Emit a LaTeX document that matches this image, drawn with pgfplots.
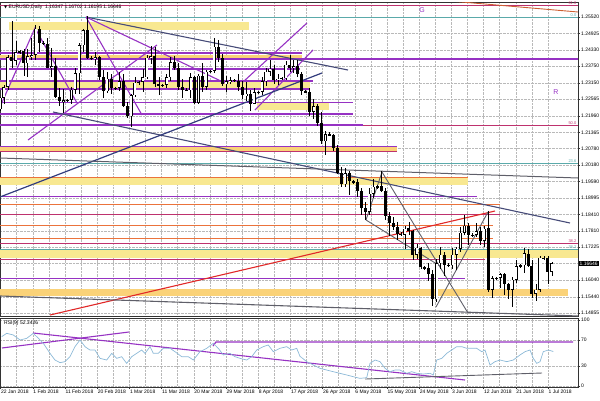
\documentclass[border=0pt]{standalone}
\usepackage{pgfplots}
\usepackage{pgfplotstable}
\pgfplotsset{compat=1.18}
\usepackage{fontspec}
\setmainfont{Liberation Sans}
\newfontfamily\dejavu{DejaVu Sans}
\definecolor{pur}{RGB}{150,50,195}
\definecolor{mar}{RGB}{190,50,110}
\definecolor{ora}{RGB}{235,115,60}
\definecolor{yel}{RGB}{248,232,145}
\definecolor{yor}{RGB}{250,210,120}
\definecolor{tea}{RGB}{90,170,170}
\definecolor{slate}{RGB}{70,75,120}
\definecolor{navy}{RGB}{50,60,125}
\definecolor{gry}{RGB}{95,95,105}
\definecolor{redl}{RGB}{225,40,40}
\definecolor{brn}{RGB}{205,95,50}
\definecolor{rsic}{RGB}{140,185,215}
\definecolor{gridc}{RGB}{185,185,185}

\pgfplotstableread{
i o h l c
0 1.2220 1.2265 1.2212 1.2262
1 1.2262 1.2306 1.2240 1.2300
2 1.2300 1.2415 1.2290 1.2408
3 1.2408 1.2537 1.2367 1.2395
4 1.2395 1.2466 1.2380 1.2425
5 1.2425 1.2432 1.2418 1.2428
6 1.2428 1.2435 1.2338 1.2385
7 1.2385 1.2436 1.2335 1.2410
8 1.2410 1.2478 1.2398 1.2415
9 1.2415 1.2523 1.2396 1.2510
10 1.2510 1.2518 1.2425 1.2460
11 1.2460 1.2466 1.2450 1.2455
12 1.2455 1.2476 1.2368 1.2370
13 1.2370 1.2440 1.2335 1.2375
14 1.2375 1.2404 1.2261 1.2265
15 1.2265 1.2297 1.2233 1.2250
16 1.2247 1.2291 1.2206 1.2252
17 1.2252 1.2258 1.2245 1.2254
18 1.2254 1.2300 1.2240 1.2290
19 1.2290 1.2370 1.2275 1.2350
20 1.2350 1.2460 1.2273 1.2450
21 1.2450 1.2510 1.2425 1.2505
22 1.2505 1.2556 1.2400 1.2405
23 1.2405 1.2412 1.2398 1.2403
24 1.2403 1.2425 1.2380 1.2408
25 1.2408 1.2410 1.2325 1.2337
26 1.2337 1.2360 1.2260 1.2285
27 1.2285 1.2353 1.2277 1.2330
28 1.2330 1.2346 1.2276 1.2295
29 1.2295 1.2300 1.2288 1.2297
30 1.2297 1.2355 1.2284 1.2320
31 1.2320 1.2345 1.2226 1.2230
32 1.2230 1.2244 1.2188 1.2195
33 1.2195 1.2274 1.2155 1.2270
34 1.2270 1.2335 1.2265 1.2315
35 1.2315 1.2322 1.2308 1.2318
36 1.2318 1.2365 1.2280 1.2335
37 1.2335 1.2415 1.2330 1.2405
38 1.2405 1.2446 1.2383 1.2410
39 1.2410 1.2445 1.2300 1.2310
40 1.2310 1.2336 1.2272 1.2305
41 1.2305 1.2312 1.2300 1.2308
42 1.2308 1.2345 1.2295 1.2335
43 1.2335 1.2409 1.2320 1.2390
44 1.2390 1.2413 1.2360 1.2370
45 1.2370 1.2385 1.2290 1.2300
46 1.2300 1.2330 1.2260 1.2290
47 1.2290 1.2296 1.2284 1.2288
48 1.2288 1.2350 1.2260 1.2335
49 1.2335 1.2340 1.2240 1.2242
50 1.2242 1.2345 1.2240 1.2340
51 1.2340 1.2388 1.2280 1.2300
52 1.2300 1.2360 1.2290 1.2355
53 1.2355 1.2362 1.2350 1.2358
54 1.2358 1.2476 1.2350 1.2445
55 1.2445 1.2470 1.2390 1.2405
56 1.2405 1.2420 1.2305 1.2310
57 1.2310 1.2338 1.2280 1.2320
58 1.2320 1.2335 1.2310 1.2325
59 1.2325 1.2330 1.2318 1.2322
60 1.2322 1.2345 1.2285 1.2300
61 1.2300 1.2320 1.2255 1.2270
62 1.2270 1.2318 1.2250 1.2275
63 1.2275 1.2290 1.2215 1.2240
64 1.2240 1.2295 1.2240 1.2280
65 1.2280 1.2286 1.2274 1.2282
66 1.2282 1.2336 1.2270 1.2320
67 1.2320 1.2368 1.2305 1.2355
68 1.2355 1.2396 1.2340 1.2365
69 1.2365 1.2380 1.2310 1.2325
70 1.2325 1.2345 1.2307 1.2330
71 1.2330 1.2336 1.2324 1.2332
72 1.2332 1.2395 1.2325 1.2380
73 1.2380 1.2414 1.2355 1.2370
74 1.2370 1.2396 1.2352 1.2375
75 1.2375 1.2397 1.2336 1.2345
76 1.2345 1.2355 1.2270 1.2285
77 1.2285 1.2290 1.2278 1.2282
78 1.2282 1.2296 1.2195 1.2210
79 1.2210 1.2255 1.2185 1.2230
80 1.2230 1.2240 1.2160 1.2170
81 1.2170 1.2210 1.2093 1.2105
82 1.2105 1.2140 1.2055 1.2130
83 1.2130 1.2136 1.2122 1.2127
84 1.2127 1.2130 1.2070 1.2080
85 1.2080 1.2090 1.1985 1.1990
86 1.1990 1.2012 1.1938 1.1950
87 1.1950 1.2008 1.1940 1.1990
88 1.1990 1.1996 1.1910 1.1960
89 1.1960 1.1966 1.1952 1.1958
90 1.1958 1.1968 1.1905 1.1925
91 1.1925 1.1935 1.1838 1.1865
92 1.1865 1.1885 1.1822 1.1850
93 1.1850 1.1935 1.1840 1.1915
94 1.1915 1.1970 1.1900 1.1940
95 1.1940 1.1946 1.1934 1.1942
96 1.1942 1.1997 1.1920 1.1925
97 1.1925 1.1935 1.1820 1.1835
98 1.1835 1.1850 1.1763 1.1810
99 1.1810 1.1830 1.1785 1.1795
100 1.1795 1.1815 1.1750 1.1770
101 1.1770 1.1776 1.1762 1.1768
102 1.1768 1.1800 1.1717 1.1790
103 1.1790 1.1815 1.1765 1.1780
104 1.1780 1.1785 1.1676 1.1695
105 1.1695 1.1735 1.1680 1.1720
106 1.1720 1.1725 1.1645 1.1650
107 1.1650 1.1656 1.1642 1.1648
108 1.1648 1.1667 1.1600 1.1625
109 1.1625 1.1640 1.1510 1.1535
110 1.1535 1.1680 1.1525 1.1665
111 1.1665 1.1725 1.1645 1.1695
112 1.1695 1.1705 1.1620 1.1660
113 1.1660 1.1666 1.1652 1.1658
114 1.1658 1.1718 1.1645 1.1695
115 1.1695 1.1722 1.1640 1.1718
116 1.1718 1.1795 1.1705 1.1775
117 1.1775 1.1840 1.1765 1.1800
118 1.1800 1.1810 1.1730 1.1765
119 1.1765 1.1772 1.1760 1.1768
120 1.1768 1.1808 1.1760 1.1780
121 1.1780 1.1795 1.1730 1.1745
122 1.1745 1.1800 1.1725 1.1790
123 1.1790 1.1852 1.1560 1.1570
124 1.1570 1.1620 1.1540 1.1610
125 1.1610 1.1616 1.1604 1.1612
126 1.1612 1.1630 1.1575 1.1625
127 1.1625 1.1628 1.1550 1.1590
128 1.1590 1.1595 1.1535 1.1570
129 1.1570 1.1615 1.1508 1.1605
130 1.1605 1.1675 1.1595 1.1655
131 1.1655 1.1662 1.1648 1.1658
132 1.1658 1.1720 1.1630 1.1700
133 1.1700 1.1715 1.1650 1.1655
134 1.1655 1.1675 1.1540 1.1555
135 1.1555 1.1590 1.1527 1.1570
136 1.1570 1.1690 1.1560 1.1685
137 1.1685 1.1690 1.1678 1.1682
138 1.1682 1.1690 1.1590 1.1635
139 1.1635 1.1670 1.1620 1.1665
}\candles

\pgfplotstableread{
x v
1.7 74.7
6.7 79.8
13.3 77.3
20 69.7
26.7 72.2
33.3 79.8
36.7 74.7
43.3 64.7
50 49.5
55 39.4
60 35.4
65 36.9
70 44.4
75 59.6
80 69.7
85 59.6
90 54.5
95 54.5
100 41.9
106.7 39.4
111.7 49.5
116.7 41.9
121.7 44.4
126.7 34.3
131.7 44.4
136.7 49.5
141.7 54.5
145 49.5
150 59.6
153.3 49.5
158.3 49.5
163.3 57.1
170 57.1
175 52
181.7 44.4
188.3 44.4
193.3 39.4
200 52
206.7 57.1
213.3 64.7
218.3 57.1
223.3 47
230 49.5
235 44.4
240 41.9
246.7 39.4
251.7 44.4
256.7 54.5
263.3 59.6
268.3 62.1
273.3 52
280 57.1
286.7 59.6
291.7 54.5
296.7 57.1
300 45.0
306.7 36.9
313.3 31.8
320 26.8
326.7 24.2
333.3 21.7
340 19.2
346.7 16.7
353.3 14.1
360 11.6
366.7 12.6
370 34.3
375 39.4
380 36.9
385 26.8
390 21.7
395 24.2
400 24.2
406.7 19.2
411.7 21.7
416.7 19.2
423.3 18.2
430 19.2
433.3 16.7
436.7 39.4
441.7 41.9
446.7 49.5
451.7 54.5
456.7 59.6
461.7 59.6
466.7 57.1
471.7 57.1
476.7 57.1
481.7 52
485 54.5
490 31.8
495 36.9
500 39.4
506.7 36.9
513.3 39.4
520 47
525 52
530 54.5
533.3 41.9
536.7 34.3
540 36.9
543.3 52
548.3 54.5
553.3 52.3
}\rsitab

\pgfplotsset{
  mt/.style={
    scale only axis, width=578pt, xmin=0, xmax=578,
    xtick={0.5,32.7,64.9,97.1,129.3,161.5,193.7,225.9,258.1,290.3,322.5,354.7,386.9,419.1,451.3,483.5,515.7,547.9},
    minor x tick num=1,
    grid=both,
    major grid style={gridc, densely dotted, line width=0.35pt},
    minor grid style={gridc, densely dotted, line width=0.35pt},
    axis line style={black!80, line width=0.6pt},
    tick align=outside, major tick length=2pt, minor tick length=0pt,
    tick style={black!80, line width=0.4pt},
    ytick pos=right, yticklabel pos=right,
    clip mode=individual,
    yticklabel style={font=\fontsize{5}{6}\selectfont, inner sep=1pt},
    xticklabel style={font=\fontsize{5}{6}\selectfont, anchor=north west, inner sep=1pt, xshift=-0.5pt},
  }
}

\begin{document}
\begin{tikzpicture}[x=1pt,y=1pt]
\path[use as bounding box] (0pt,0pt) rectangle (600pt,-400pt);

\begin{axis}[mt, name=main, at={(0pt,-2pt)}, anchor=north west, height=314pt,
  ymin=1.14747, ymax=1.26060,
  xticklabels={}, xtick pos=bottom, xtick style={draw=none},
  ytick={1.25520,1.24925,1.24330,1.23750,1.23150,1.22565,1.21960,1.21365,1.20780,1.20180,1.19590,1.18995,1.18410,1.17810,1.17225,1.16640,1.16040,1.15440,1.14855},
  yticklabels={1.25520,1.24925,1.24330,1.23750,1.23150,1.22565,1.21960,1.21365,1.20780,1.20180,1.19590,1.18995,1.18410,1.17810,1.17225,1.16640,1.16040,1.15440,1.14855},
]
% bands
\addplot[forget plot, fill=yel, draw=none] coordinates {(9,1.25340) (249,1.25340) (249,1.25052) (9,1.25052)};
\addplot[forget plot, fill=yor, draw=none] coordinates {(0,1.24151) (302,1.24151) (302,1.24007) (0,1.24007)};
\addplot[forget plot, fill=yel, draw=none] coordinates {(0,1.23178) (310,1.23178) (310,1.22962) (0,1.22962)};
\addplot[forget plot, fill=yel, draw=none] coordinates {(257,1.22421) (329,1.22421) (329,1.22169) (257,1.22169)};
\addplot[forget plot, fill=yor, draw=none] coordinates {(0,1.20872) (397,1.20872) (397,1.20692) (0,1.20692)};
\addplot[forget plot, fill=yel, draw=none] coordinates {(0,1.19755) (468,1.19755) (468,1.19467) (0,1.19467)};
\addplot[forget plot, fill=yel, draw=none] coordinates {(0,1.17125) (578,1.17125) (578,1.16837) (0,1.16837)};
\addplot[forget plot, fill=yor, draw=none] coordinates {(0,1.15720) (568,1.15720) (568,1.15468) (0,1.15468)};
% fib / thin full-width levels
\addplot[forget plot, mar, line width=0.6pt] coordinates {(0,1.25952) (578,1.25952)};
\addplot[forget plot, tea, line width=0.6pt] coordinates {(0,1.25520) (578,1.25520)};
\addplot[forget plot, mar, line width=0.6pt] coordinates {(0,1.21629) (578,1.21629)};
\addplot[forget plot, tea, line width=0.6pt] coordinates {(0,1.20260) (578,1.20260)};
\addplot[forget plot, mar, line width=0.6pt] coordinates {(0,1.17377) (578,1.17377)};
\addplot[forget plot, tea, line width=0.6pt] coordinates {(0,1.17161) (578,1.17161)};
% purple levels
\addplot[forget plot, pur, line width=1.2pt] coordinates {(0,1.24223) (302,1.24223)};
\addplot[forget plot, pur, line width=1.3pt] coordinates {(0,1.24007) (578,1.24007)};
\addplot[forget plot, pur, line width=1.2pt] coordinates {(0,1.23646) (300,1.23646)};
\addplot[forget plot, pur, line width=1.2pt] coordinates {(0,1.23214) (313,1.23214)};
\addplot[forget plot, pur, line width=1.2pt] coordinates {(0,1.22926) (310,1.22926)};
\addplot[forget plot, pur, line width=1.2pt] coordinates {(0,1.22439) (353,1.22439)};
\addplot[forget plot, pur, line width=1.2pt] coordinates {(0,1.22025) (353,1.22025)};
\addplot[forget plot, pur, line width=1.2pt] coordinates {(0,1.21629) (363,1.21629)};
\addplot[forget plot, pur, line width=1.0pt] coordinates {(0,1.20872) (397,1.20872)};
\addplot[forget plot, pur, line width=1.0pt] coordinates {(0,1.19035) (477,1.19035)};
\addplot[forget plot, pur, line width=1.0pt] coordinates {(0,1.16116) (465,1.16116)};
% orange and maroon levels
\addplot[forget plot, ora, line width=0.9pt] coordinates {(0,1.19755) (468,1.19755)};
\addplot[forget plot, ora, line width=0.9pt] coordinates {(0,1.18783) (500,1.18783)};
\addplot[forget plot, ora, line width=0.9pt] coordinates {(0,1.18026) (493,1.18026)};
\addplot[forget plot, ora, line width=0.9pt] coordinates {(0,1.17557) (493,1.17557)};
\addplot[forget plot, mar, line width=0.9pt] coordinates {(0,1.20692) (397,1.20692)};
\addplot[forget plot, mar, line width=0.9pt] coordinates {(0,1.18422) (500,1.18422)};
\addplot[forget plot, mar, line width=0.9pt] coordinates {(0,1.16801) (485,1.16801)};
% trend lines
\addplot[forget plot, brn, line width=0.9pt] coordinates {(450,1.26096) (578,1.25700)};
\addplot[forget plot, slate, line width=1.1pt] coordinates {(86,1.25520) (348,1.23610)};
\addplot[forget plot, pur, line width=1.1pt] coordinates {(86,1.25520) (225,1.23142)};
\addplot[forget plot, pur, line width=1.1pt] coordinates {(86,1.25520) (142,1.21989)};
\addplot[forget plot, pur, line width=1.1pt] coordinates {(0,1.22277) (35,1.25124) (77,1.22421)};
\addplot[forget plot, pur, line width=1.1pt] coordinates {(28,1.21088) (157,1.24511)};
\addplot[forget plot, pur, line width=1.1pt] coordinates {(243,1.23178) (307,1.25304)};
\addplot[forget plot, pur, line width=1.1pt] coordinates {(255,1.22169) (313,1.24331)};
\addplot[forget plot, slate, line width=1.1pt] coordinates {(53,1.22097) (570,1.18098)};
\addplot[forget plot, navy, line width=1.2pt] coordinates {(0,1.19035) (322,1.23502)};
\addplot[forget plot, gry, line width=1.0pt] coordinates {(0,1.20440) (578,1.19719)};
\addplot[forget plot, redl, line width=1.1pt] coordinates {(50,1.14783) (495,1.18530)};
\addplot[forget plot, gry, line width=1.1pt] coordinates {(0,1.15468) (578,1.14747)};
\addplot[forget plot, gry, line width=0.9pt] coordinates {(366,1.18206) (382,1.19935) (468,1.14855)};
\addplot[forget plot, gry, line width=0.9pt] coordinates {(366,1.18206) (440,1.16549)};
\addplot[forget plot, gry, line width=0.9pt] coordinates {(488,1.18494) (436,1.15071)};
% candles: wicks
\addplot[forget plot, draw=none, mark=none,
  error bars/.cd, y dir=both, y explicit, error mark=none,
  error bar style={draw=black, line width=0.6pt}]
  table[x expr={3.97*\thisrow{i}}, y=o,
        y error plus expr={\thisrow{h}-\thisrow{o}},
        y error minus expr={\thisrow{o}-\thisrow{l}}] {\candles};
% candles: bodies (black)
\addplot[forget plot, draw=none, mark=none,
  error bars/.cd, y dir=both, y explicit, error mark=none,
  error bar style={draw=black, line width=3pt}]
  table[x expr={3.97*\thisrow{i}}, y expr={(\thisrow{o}+\thisrow{c})/2},
        y error expr={max(abs(\thisrow{c}-\thisrow{o})/2,0.0001)}] {\candles};
% candles: white bodies
\addplot[forget plot, draw=none, mark=none,
  error bars/.cd, y dir=both, y explicit, error mark=none,
  error bar style={draw=white, line width=1.9pt}]
  table[x expr={3.97*\thisrow{i}}, y expr={(\thisrow{o}+\thisrow{c})/2},
        y error expr={(\thisrow{c}>\thisrow{o})*max(abs(\thisrow{c}-\thisrow{o})/2-0.0002,0)}] {\candles};
% labels
\node[text=pur, font=\fontsize{7}{8}\selectfont] at (axis cs:422,1.25772) {G};
\node[text=pur, font=\fontsize{7}{8}\selectfont] at (axis cs:556,1.22818) {R};
\node[text=mar, font=\fontsize{4}{5}\selectfont, anchor=south east, inner sep=0.5pt] at (axis cs:577,1.25952) {61.8};
\node[text=tea, font=\fontsize{4}{5}\selectfont, anchor=south east, inner sep=0.5pt] at (axis cs:577,1.25520) {0.0};
\node[text=mar, font=\fontsize{4}{5}\selectfont, anchor=south east, inner sep=0.5pt] at (axis cs:577,1.21629) {50.0};
\node[text=tea, font=\fontsize{4}{5}\selectfont, anchor=south east, inner sep=0.5pt] at (axis cs:577,1.20260) {23.6};
\node[text=mar, font=\fontsize{4}{5}\selectfont, anchor=south east, inner sep=0.5pt] at (axis cs:577,1.17377) {38.2};
\node[text=tea, font=\fontsize{4}{5}\selectfont, anchor=south east, inner sep=0.5pt] at (axis cs:577,1.17161) {38.2};
\node[fill=black, text=white, anchor=west, inner sep=1pt, font=\fontsize{5}{6}\selectfont] at (axis cs:578.5,1.16646) {1.16646};
\end{axis}

\begin{axis}[mt, at={(0pt,-318pt)}, anchor=north west, height=69pt,
  ymin=-1.5, ymax=103,
  xtick pos=bottom,
  xticklabels={22 Jan 2018,1 Feb 2018,11 Feb 2018,20 Feb 2018,1 Mar 2018,11 Mar 2018,20 Mar 2018,29 Mar 2018,8 Apr 2018,17 Apr 2018,26 Apr 2018,6 May 2018,15 May 2018,24 May 2018,3 Jun 2018,12 Jun 2018,21 Jun 2018,1 Jul 2018},
  ytick={0,30,70,100}, yticklabels={0,30,70,100},
]
\addplot[forget plot, pur, line width=1.2pt] coordinates {(213,60.6) (216,66.7) (573,66.7)};
\addplot[forget plot, pur, line width=1.1pt] coordinates {(33,80.3) (465,9.1)};
\addplot[forget plot, pur, line width=1.1pt] coordinates {(2,57.6) (129,81.8)};
\addplot[forget plot, gry, line width=0.9pt] coordinates {(365,10.6) (542,19.7)};
\addplot[forget plot, rsic, line width=0.7pt] table[x=x, y=v] {\rsitab};
\end{axis}

\node[anchor=west, inner sep=0pt, font=\fontsize{5}{6}\selectfont] at (4pt,-7pt) {{\dejavu\fontsize{4}{5}\selectfont ▼}\ EURUSD,Daily\ \ 1.16347 1.16702 1.16195 1.16646};
\node[anchor=west, inner sep=0pt, font=\fontsize{5}{6}\selectfont] at (4pt,-323pt) {RSI(9) 52.3426};
\end{tikzpicture}
\end{document}
